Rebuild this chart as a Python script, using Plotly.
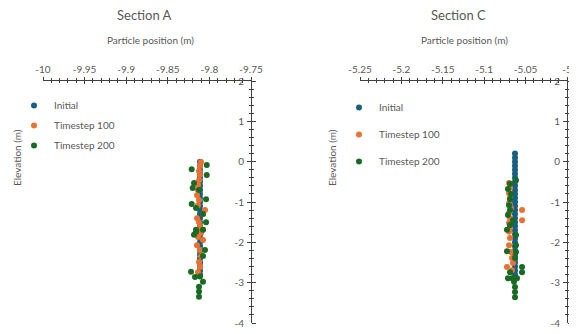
import plotly.graph_objects as go

# page offset of the plot div inside the browser page (default body margin)
OFF = 8
VIEW_W, VIEW_H = 577, 334
W, H = VIEW_W - OFF, VIEW_H - OFF

# ---------------- Data ----------------
series_names = ["Initial", "Timestep 100", "Timestep 200"]
series_colors = ["#156082", "#E97132", "#196B24"]

# Section A
a_init_x = [-9.8113] * 29
a_init_y = [0.0, -0.1, -0.2, -0.3, -0.4, -0.5, -0.6, -0.7, -0.8, -0.9,
            -1.0, -1.1, -1.2, -1.3, -1.4, -1.5, -1.6, -1.7, -1.8, -1.9,
            -2.0, -2.1, -2.2, -2.3, -2.4, -2.5, -2.6, -2.7, -2.8]

a_t100_x = [-9.8101, -9.8113, -9.8125, -9.8113, -9.8125, -9.8137, -9.8137, -9.8149,
            -9.8125, -9.8137, -9.8053, -9.8077, -9.8149, -9.8125, -9.8113, -9.8077,
            -9.8101, -9.8137, -9.8077, -9.8149, -9.8113, -9.8101, -9.8125, -9.8113,
            -9.8137]
a_t100_y = [-0.01, -0.11, -0.23, -0.33, -0.46, -0.58, -0.70, -0.83,
            -0.95, -1.08, -1.20, -1.30, -1.40, -1.50, -1.62, -1.69,
            -1.77, -1.87, -1.94, -2.07, -2.19, -2.34, -2.49, -2.61,
            -2.74]

a_t200_x = [-9.8032, -9.8213, -9.8032, -9.8185, -9.8201, -9.8125, -9.8040, -9.8213,
            -9.8161, -9.8077, -9.8040, -9.8161, -9.8077, -9.8185, -9.8161, -9.8053,
            -9.8077, -9.8221, -9.8173, -9.8113, -9.8077, -9.8125, -9.8125, -9.8125]
a_t200_y = [-0.08, -0.19, -0.33, -0.53, -0.65, -0.70, -0.93, -1.05,
            -1.15, -1.30, -1.50, -1.69, -1.69, -1.81, -1.74, -2.19,
            -2.34, -2.73, -2.86, -2.85, -2.98, -3.10, -3.22, -3.35]

# Section C
c_init_x = [-5.0628] * 31
c_init_y = [0.2, 0.1, 0.0, -0.1, -0.2, -0.3, -0.4, -0.5, -0.6, -0.7, -0.8,
            -0.9, -1.0, -1.1, -1.2, -1.3, -1.4, -1.5, -1.6, -1.7, -1.8,
            -1.9, -2.0, -2.1, -2.2, -2.3, -2.4, -2.5, -2.6, -2.7, -2.8]

c_t100_x = [-5.0700, -5.0688, -5.0700, -5.0688, -5.0700, -5.0676, -5.0543, -5.0700,
            -5.0688, -5.0543, -5.0700, -5.0688, -5.0700, -5.0688, -5.0700, -5.0676,
            -5.0664, -5.0652, -5.0725, -5.0664]
c_t100_y = [-0.53, -0.65, -0.78, -0.90, -1.03, -1.15, -1.20, -1.27,
            -1.40, -1.45, -1.52, -1.65, -1.74, -1.89, -2.07, -2.24,
            -2.39, -2.51, -2.61, -2.69]

c_t200_x = [-5.0616, -5.0688, -5.0713, -5.0676, -5.0688, -5.0700, -5.0688, -5.0713,
            -5.0652, -5.0688, -5.0725, -5.0616, -5.0616, -5.0725, -5.0616, -5.0628,
            -5.0543, -5.0543, -5.0688, -5.0713, -5.0664, -5.0604, -5.0640, -5.0628,
            -5.0628, -5.0628]
c_t200_y = [-0.46, -0.55, -0.68, -0.80, -0.93, -1.08, -1.20, -1.32,
            -1.45, -1.57, -1.69, -1.82, -2.07, -2.22, -2.24, -2.39,
            -2.61, -2.74, -2.74, -2.89, -2.89, -2.89, -2.98, -3.11,
            -3.23, -3.36]

# Axis ticks
a_xticks = [-10, -9.95, -9.9, -9.85, -9.8, -9.75]
a_xticklabels = ["-10", "-9.95", "-9.9", "-9.85", "-9.8", "-9.75"]
c_xticks = [-5.25, -5.2, -5.15, -5.1, -5.05, -5]
c_xticklabels = ["-5.25", "-5.2", "-5.15", "-5.1", "-5.05", "-5"]
yticks = [2, 1, 0, -1, -2, -3, -4]
yticklabels = ["2", "1", "0", "-1", "-2", "-3", "-4"]

titles = ["Section A", "Section C"]
x_title = "Particle position (m)"
y_title = "Elevation (m)"

# ---------------- Style ----------------
FONT = "Lato"
TXT = "#595959"
LINE = "#404040"

def px_x(p):
    return (p - OFF) / W

def px_y(p):
    return 1 - (p - OFF) / H

fig = go.Figure()

sections = [
    (a_init_x, a_init_y, a_t100_x, a_t100_y, a_t200_x, a_t200_y, "x", "y", "legend"),
    (c_init_x, c_init_y, c_t100_x, c_t100_y, c_t200_x, c_t200_y, "x2", "y2", "legend2"),
]
for (ix, iy, t1x, t1y, t2x, t2y, xa, ya, lg) in sections:
    for name, col, xs, ys in zip(series_names, series_colors, [ix, t1x, t2x], [iy, t1y, t2y]):
        fig.add_trace(go.Scatter(
            x=xs, y=ys, mode="markers", name=name,
            marker=dict(color=col, size=6, line=dict(width=0)),
            xaxis=xa, yaxis=ya, legend=lg, legendgroup=lg + name,
        ))

# dummy traces for overlay axes (cross tick marks)
fig.add_trace(go.Scatter(x=[], y=[], xaxis="x3", yaxis="y3", showlegend=False, hoverinfo="skip"))
fig.add_trace(go.Scatter(x=[], y=[], xaxis="x4", yaxis="y4", showlegend=False, hoverinfo="skip"))

ydom = [px_y(323), px_y(81)]
adom = [px_x(43), px_x(251)]
cdom = [px_x(360), px_x(567)]

def xax(dom, rng, tv, tt, main=True, overl=None):
    d = dict(domain=dom, range=rng, side="top", showgrid=False, zeroline=False,
             tickvals=tv, ticktext=tt, tickcolor=LINE, fixedrange=True, automargin=False,
             ticklabeloverflow="allow")
    if main:
        d.update(showline=True, linecolor=LINE, linewidth=1, ticks="outside", ticklen=3,
                 tickfont=dict(family=FONT, size=10, color=TXT),
                 minor=dict(dtick=0.01, tick0=rng[0], ticks="outside", ticklen=2, tickcolor=LINE))
    else:
        d.update(showline=False, ticks="inside", ticklen=3, showticklabels=False, overlaying=overl,
                 minor=dict(dtick=0.01, tick0=rng[0], ticks="inside", ticklen=2, tickcolor=LINE))
    return d

def yax(main=True, overl=None, anchor="x"):
    d = dict(domain=ydom, range=[-4, 2], side="right", showgrid=False, zeroline=False,
             tickvals=yticks, ticktext=yticklabels, tickcolor=LINE, anchor=anchor,
             fixedrange=True, automargin=False)
    if main:
        d.update(showline=True, linecolor=LINE, linewidth=1, ticks="outside", ticklen=4,
                 ticklabelposition="inside", ticklabelstandoff=6, ticklabeloverflow="allow",
                 tickfont=dict(family=FONT, size=10, color=TXT),
                 minor=dict(dtick=0.2, tick0=0, ticks="outside", ticklen=2, tickcolor=LINE))
    else:
        d.update(showline=False, ticks="inside", ticklen=4, showticklabels=False, overlaying=overl,
                 minor=dict(dtick=0.2, tick0=0, ticks="inside", ticklen=2, tickcolor=LINE))
    return d

fig.update_layout(
    template="none",
    width=W, height=H,
    margin=dict(l=0, r=0, t=0, b=0, pad=0, autoexpand=False),
    paper_bgcolor="white", plot_bgcolor="white",
    font=dict(family=FONT, size=10, color=TXT),
    xaxis=dict(**xax(adom, [-10, -9.75], a_xticks, a_xticklabels), anchor="y"),
    yaxis=yax(anchor="x"),
    xaxis2=dict(**xax(cdom, [-5.25, -5], c_xticks, c_xticklabels), anchor="y2"),
    yaxis2=yax(anchor="x2"),
    xaxis3=dict(**xax(adom, [-10, -9.75], a_xticks, a_xticklabels, main=False, overl="x"), anchor="y"),
    yaxis3=yax(main=False, overl="y", anchor="x"),
    xaxis4=dict(**xax(cdom, [-5.25, -5], c_xticks, c_xticklabels, main=False, overl="x2"), anchor="y2"),
    yaxis4=yax(main=False, overl="y2", anchor="x2"),
    legend=dict(x=px_x(14), y=px_y(91), xanchor="left", yanchor="top",
                bgcolor="rgba(0,0,0,0)", tracegroupgap=1,
                font=dict(family=FONT, size=10, color=TXT)),
    legend2=dict(x=px_x(339), y=px_y(93), xanchor="left", yanchor="top",
                 bgcolor="rgba(0,0,0,0)", tracegroupgap=8,
                 font=dict(family=FONT, size=10, color=TXT)),
    showlegend=True,
)

ann = []
for t, cx in zip(titles, [144, 458]):
    ann.append(dict(text=t, x=px_x(cx), y=px_y(15), xref="paper", yref="paper",
                    xanchor="center", yanchor="middle",
                    showarrow=False, font=dict(family=FONT, size=13, color=TXT)))
for cx in [150, 464]:
    ann.append(dict(text=x_title, x=px_x(cx), y=px_y(40), xref="paper", yref="paper",
                    xanchor="center", yanchor="middle",
                    showarrow=False, font=dict(family=FONT, size=10, color=TXT)))
for cx in [17, 332]:
    ann.append(dict(text=y_title, x=px_x(cx), y=px_y(158), xref="paper", yref="paper",
                    xanchor="center", yanchor="middle",
                    showarrow=False, textangle=-90, font=dict(family=FONT, size=10, color=TXT)))
fig.update_layout(annotations=ann)

fig.write_html("out.html")
